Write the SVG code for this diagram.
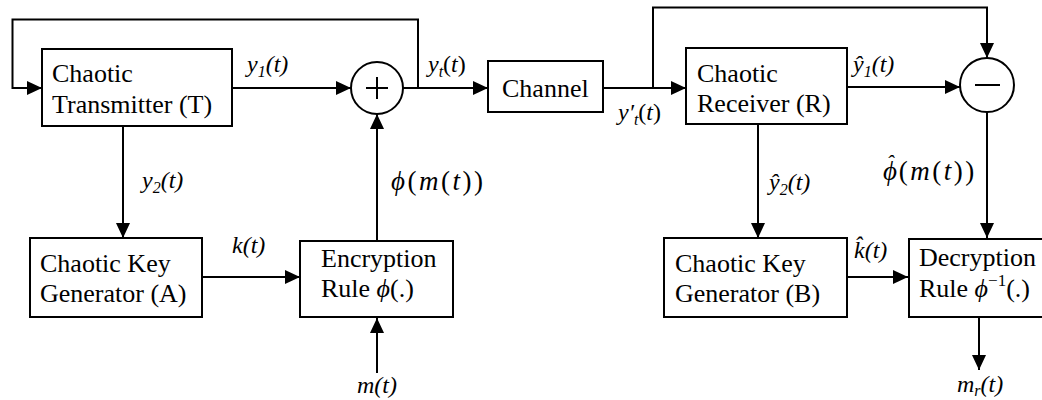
<svg xmlns="http://www.w3.org/2000/svg" width="1042" height="400" viewBox="0 0 1042 400">
<style>
.box{fill:#fff;stroke:#000;stroke-width:2}
.circ{fill:#fff;stroke:#000;stroke-width:2}
.wire{fill:none;stroke:#000;stroke-width:2}
text{font-family:'Liberation Serif','Times New Roman','DejaVu Serif',serif;fill:#000}
.txt{font-size:26px}
.m{font-size:24px;font-style:italic}
.phi{font-size:27px;letter-spacing:2.5px}
.up{font-style:normal}
.sub{font-size:16px}
</style>
<defs>
<marker id="ah" markerWidth="15" markerHeight="14" refX="15" refY="7" orient="auto" markerUnits="userSpaceOnUse">
<path d="M0,0 L15,7 L0,14 z" fill="#000"/>
</marker>
</defs>
<rect width="1042" height="400" fill="#fff"/>
<g id="connectors">
<path class="wire" d="M418,88 V19.5 H12.5 V88 H42" marker-end="url(#ah)"/>
<path class="wire" d="M232,88 H351" marker-end="url(#ah)"/>
<path class="wire" d="M123,126 V238" marker-end="url(#ah)"/>
<path class="wire" d="M202,277 H300" marker-end="url(#ah)"/>
<path class="wire" d="M377,241 V114" marker-end="url(#ah)"/>
<path class="wire" d="M377,373 V318" marker-end="url(#ah)"/>
<path class="wire" d="M403,88 H488" marker-end="url(#ah)"/>
<path class="wire" d="M603,88 H686" marker-end="url(#ah)"/>
<path class="wire" d="M653,88 V7.5 H987 V58" marker-end="url(#ah)"/>
<path class="wire" d="M847,87 H960" marker-end="url(#ah)"/>
<path class="wire" d="M987,112 V238" marker-end="url(#ah)"/>
<path class="wire" d="M758,124 V238" marker-end="url(#ah)"/>
<path class="wire" d="M847,277 H908" marker-end="url(#ah)"/>
<path class="wire" d="M979,317 V370" marker-end="url(#ah)"/>
<text class="m" x="247" y="72">y<tspan class="sub" dy="5">1</tspan><tspan dy="-5">(t)</tspan></text>
<text class="m" x="142" y="188">y<tspan class="sub" dy="5">2</tspan><tspan dy="-5">(t)</tspan></text>
<text class="m" x="232" y="253">k(t)</text>
<text class="m phi" x="391" y="190">ϕ<tspan class="up">(</tspan>m<tspan class="up">(</tspan>t<tspan class="up">))</tspan></text>
<text class="m" x="357" y="393">m(t)</text>
<text class="m" x="428" y="72">y<tspan class="sub" dy="5">t</tspan><tspan class="up" dy="-5">(</tspan>t<tspan class="up">)</tspan></text>
<text class="m" x="618" y="120">y′<tspan class="sub" dy="5">t</tspan><tspan class="up" dy="-5">(</tspan>t<tspan class="up">)</tspan></text>
<text class="m" x="853" y="72">ŷ<tspan class="sub" dy="5">1</tspan><tspan dy="-5">(t)</tspan></text>
<text class="m" x="769" y="190">ŷ<tspan class="sub" dy="5">2</tspan><tspan dy="-5">(t)</tspan></text>
<text class="m phi" x="883" y="180">ϕ<tspan font-size="22" letter-spacing="0" dx="-13" dy="-10">ˆ</tspan><tspan class="up" dx="5" dy="10">(</tspan>m<tspan class="up">(</tspan>t<tspan class="up">))</tspan></text>
<text class="m" x="854" y="258">k̂(t)</text>
<text class="m" x="957" y="392">m<tspan class="sub" dy="4">r</tspan><tspan dy="-4">(t)</tspan></text>
</g>
<g id="transmitter">
<rect class="box" x="42" y="49" width="190" height="77"/>
<text class="txt" x="52" y="82">Chaotic</text>
<text class="txt" x="52" y="113">Transmitter (T)</text>
</g>
<g id="adder">
<circle class="circ" cx="377" cy="88" r="26"/>
<path class="wire" d="M366,88 H388 M377,77 V99" stroke-width="1.5"/>
</g>
<g id="keygenA">
<rect class="box" x="30" y="238" width="172" height="79"/>
<text class="txt" x="40" y="272">Chaotic Key</text>
<text class="txt" x="40" y="302">Generator (A)</text>
</g>
<g id="encryption">
<rect class="box" x="300" y="241" width="153" height="76"/>
<text class="txt" x="321" y="267">Encryption</text>
<text class="txt" x="321" y="297">Rule <tspan font-style="italic">ϕ</tspan>(.)</text>
</g>
<g id="channel">
<rect class="box" x="488" y="61" width="115" height="51"/>
<text class="txt" x="502" y="97">Channel</text>
</g>
<g id="receiver">
<rect class="box" x="686" y="48" width="161" height="76"/>
<text class="txt" x="697" y="82">Chaotic</text>
<text class="txt" x="697" y="112">Receiver (R)</text>
</g>
<g id="subtractor">
<circle class="circ" cx="987" cy="85" r="27"/>
<path class="wire" d="M975,85 H1000"/>
</g>
<g id="keygenB">
<rect class="box" x="664" y="238" width="183" height="79"/>
<text class="txt" x="675" y="272">Chaotic Key</text>
<text class="txt" x="675" y="302">Generator (B)</text>
</g>
<g id="decryption">
<rect class="box" x="909" y="239" width="150" height="78"/>
<text class="txt" x="919" y="266">Decryption</text>
<text class="txt" x="919" y="297">Rule <tspan font-style="italic">ϕ</tspan><tspan font-size="17" dy="-11">−1</tspan><tspan dy="11">(.)</tspan></text>
</g>
</svg>
